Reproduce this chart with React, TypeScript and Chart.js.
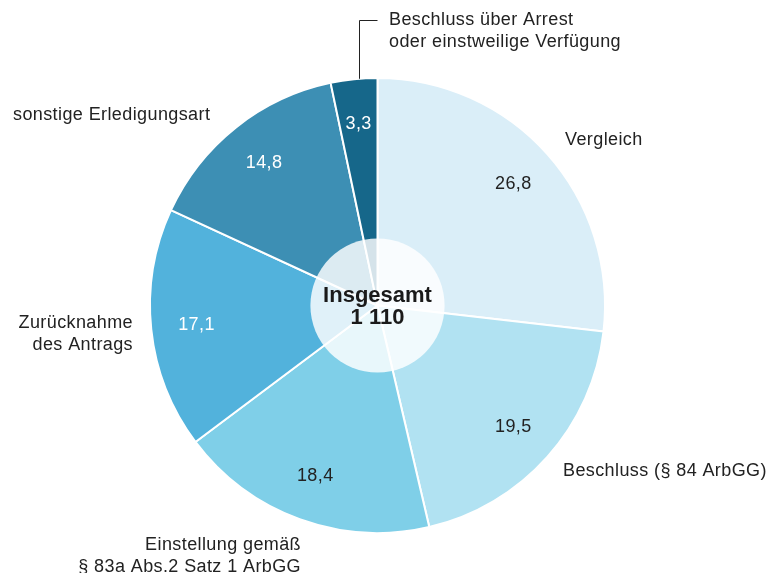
import React, { useEffect, useRef } from "react";
import { Chart, registerables } from "chart.js";
Chart.register(...registerables);

const categories = [
  "Vergleich",
  "Beschluss (§ 84 ArbGG)",
  "Einstellung gemäß § 83a Abs.2 Satz 1 ArbGG",
  "Zurücknahme des Antrags",
  "sonstige Erledigungsart",
  "Beschluss über Arrest oder einstweilige Verfügung",
];
const shares = [26.8, 19.5, 18.4, 17.1, 14.8, 3.3];
const sliceColors = ["#daeef8", "#b1e2f2", "#7fcfe8", "#52b2dc", "#3d8fb4", "#16678a"];
const valueTextColors = ["#222222", "#222222", "#222222", "#ffffff", "#ffffff", "#ffffff"];
const totalLines = ["Insgesamt", "1 110"];
const outerLabelLines = [
  ["Vergleich"],
  ["Beschluss (§ 84 ArbGG)"],
  ["Einstellung gemäß", "§ 83a Abs.2 Satz 1 ArbGG"],
  ["Zurücknahme", "des Antrags"],
  ["sonstige Erledigungsart"],
  ["Beschluss über Arrest", "oder einstweilige Verfügung"],
];

const FONT = '"Liberation Sans", Arial, Helvetica, sans-serif';

// layout for outer labels (anchor x, first line y, alignment)
const outerLabelLayout = [
  { x: 565, y: 140, align: "left" },
  { x: 563, y: 471, align: "left" },
  { x: 301, y: 545, align: "right" },
  { x: 133, y: 323, align: "right" },
  { x: 13, y: 115, align: "left" },
  { x: 389, y: 20, align: "left" },
];

const labelPlugin = {
  id: "labelPlugin",
  afterDatasetsDraw(chart: any) {
    const ctx = chart.ctx as CanvasRenderingContext2D;
    const meta = chart.getDatasetMeta(0);
    const arcs = meta.data;
    if (!arcs.length) return;
    const first = arcs[0].getProps(["x", "y", "outerRadius"], true);
    const cx = first.x;
    const cy = first.y;
    const R = first.outerRadius;

    ctx.save();
    // inner translucent circle
    ctx.beginPath();
    ctx.arc(cx, cy, R * 0.295, 0, Math.PI * 2);
    ctx.fillStyle = "rgba(255,255,255,0.82)";
    ctx.fill();

    // value labels
    ctx.textAlign = "center";
    ctx.textBaseline = "middle";
    (ctx as any).letterSpacing = "0.4px";
    ctx.font = `18px ${FONT}`;
    arcs.forEach((arc: any, i: number) => {
      const p = arc.getProps(["x", "y", "startAngle", "endAngle", "outerRadius"], true);
      const mid = (p.startAngle + p.endAngle) / 2;
      const r = p.outerRadius * 0.8;
      ctx.fillStyle = valueTextColors[i];
      ctx.fillText(shares[i].toFixed(1).replace(".", ","), p.x + Math.cos(mid) * r, p.y + Math.sin(mid) * r);
    });

    // outer labels
    ctx.fillStyle = "#222222";
    (ctx as any).letterSpacing = "0.4px";
    ctx.font = `18px ${FONT}`;
    outerLabelLines.forEach((lines, i) => {
      const l = outerLabelLayout[i];
      ctx.textAlign = l.align as CanvasTextAlign;
      lines.forEach((t, j) => ctx.fillText(t, l.x, l.y + j * 22));
    });

    // leader line for smallest slice
    const last = arcs[arcs.length - 1].getProps(["x", "y", "startAngle", "endAngle", "outerRadius"], true);
    const lm = last.startAngle + (last.endAngle - last.startAngle) * 0.6;
    const lx = Math.round(last.x + Math.cos(lm) * last.outerRadius) + 0.5;
    const ly = last.y + Math.sin(lm) * last.outerRadius;
    ctx.beginPath();
    ctx.moveTo(lx, ly);
    ctx.lineTo(lx, 20.5);
    ctx.lineTo(lx + 18, 20.5);
    ctx.strokeStyle = "#222222";
    ctx.lineWidth = 1;
    ctx.stroke();

    // center total
    (ctx as any).letterSpacing = "0px";
    ctx.textAlign = "center";
    ctx.fillStyle = "#1a1a1a";
    ctx.font = `bold 22px ${FONT}`;
    ctx.fillText(totalLines[0], cx, cy - 10);
    ctx.fillText(totalLines[1], cx, cy + 12);
    ctx.restore();
  },
};

export default function App() {
  const ref = useRef<HTMLCanvasElement>(null);
  useEffect(() => {
    document.body.style.margin = "0";
    const chart = new Chart(ref.current as HTMLCanvasElement, {
      type: "pie",
      data: {
        labels: categories,
        datasets: [
          {
            data: shares,
            backgroundColor: sliceColors,
            borderColor: "#ffffff",
            borderWidth: 2,
          },
        ],
      },
      options: {
        responsive: false,
        animation: false,
        layout: { padding: { left: 149, right: 165, top: 77, bottom: 39 } },
        plugins: { legend: { display: false }, tooltip: { enabled: false } },
      },
      plugins: [labelPlugin],
    });
    return () => chart.destroy();
  }, []);
  return (
    <div style={{ position: "fixed", left: 0, top: 0, width: 771, height: 573, background: "#fff" }}>
      <canvas ref={ref} width={771} height={573} style={{ display: "block" }} />
    </div>
  );
}
